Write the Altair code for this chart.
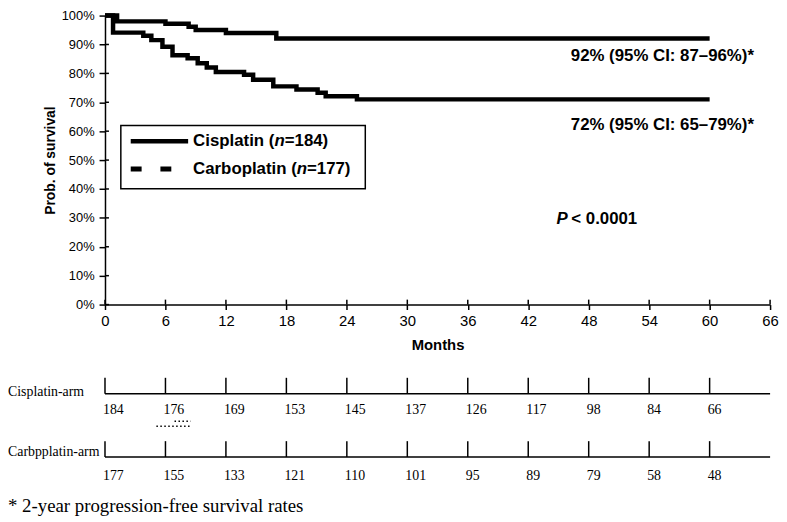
import altair as alt
import pandas as pd

# ---- survival curves (months, probability) ----
cis_months = [0, 1.2, 6, 8.3, 9, 12, 17, 60]
cis_surv = [1.00, 0.98, 0.972, 0.961, 0.95, 0.94, 0.921, 0.921]

carbo_months = [0, 0.8, 3.8, 4.6, 5.7, 6.7, 8.2, 9.2, 10.1, 11, 13.8, 14.7, 16.7, 19, 21.1, 21.9, 25, 60]
carbo_surv = [1.00, 0.941, 0.93, 0.915, 0.892, 0.863, 0.852, 0.835, 0.82, 0.805, 0.795, 0.778,
              0.755, 0.744, 0.733, 0.721, 0.71, 0.71]

# ---- axes ----
x_ticks = [0, 6, 12, 18, 24, 30, 36, 42, 48, 54, 60, 66]
y_ticks = [0, 0.1, 0.2, 0.3, 0.4, 0.5, 0.6, 0.7, 0.8, 0.9, 1.0]

# ---- numbers at risk ----
risk_months = [0, 6, 12, 18, 24, 30, 36, 42, 48, 54, 60]
cis_risk = [184, 176, 169, 153, 145, 137, 126, 117, 98, 84, 66]
carbo_risk = [177, 155, 133, 121, 110, 101, 95, 89, 79, 58, 48]

# ---- texts ----
cis_label = "92% (95% CI: 87\u201396%)*"
carbo_label = "72% (95% CI: 65\u201379%)*"
footnote = "* 2-year progression-free survival rates"

W, H = 672, 292
SANS = "Liberation Sans"
SERIF = "Liberation Serif"

curves = pd.concat([
    pd.DataFrame({"month": cis_months, "surv": cis_surv, "arm": "Cisplatin"}),
    pd.DataFrame({"month": carbo_months, "surv": carbo_surv, "arm": "Carboplatin"}),
])

x_scale = alt.Scale(domain=[0, 66], nice=False, zero=True)
y_scale = alt.Scale(domain=[0, 1], nice=False)

x_axis = alt.Axis(values=x_ticks, title="Months", labelFont=SANS, labelFontSize=15,
                  labelColor="black", labelFlush=False, labelOverlap=False, labelPadding=4,
                  tickSize=5, tickColor="black", tickWidth=1.5, domainColor="black",
                  domainWidth=1.5, grid=False, titleFont=SANS, titleFontSize=15,
                  titleFontWeight="bold", titleColor="black", titlePadding=9, format="d")
y_axis = alt.Axis(values=y_ticks, format=".0%", title="Prob. of survival", labelFont=SANS,
                  labelFontSize=13, labelColor="black", labelOverlap=False, labelPadding=5,
                  tickSize=6, tickColor="black", tickWidth=1.5, domainColor="black",
                  domainWidth=1.5, grid=False, titleFont=SANS, titleFontSize=14,
                  titleFontWeight="bold", titleColor="black", titlePadding=4)


def X(field=None, datum=None):
    if datum is not None:
        return alt.X(datum=datum, type="quantitative", scale=x_scale, axis=x_axis)
    return alt.X(field, type="quantitative", scale=x_scale, axis=x_axis)


def Y(field=None, datum=None):
    if datum is not None:
        return alt.Y(datum=datum, type="quantitative", scale=y_scale, axis=y_axis)
    return alt.Y(field, type="quantitative", scale=y_scale, axis=y_axis)


lines = alt.Chart(curves).mark_line(
    interpolate="step-after", color="black", strokeWidth=4.5, strokeCap="butt", strokeJoin="miter"
).encode(
    x=X("month"),
    y=Y("surv"),
    detail="arm:N",
)

# inner halves of the crossing tick marks
xt = pd.DataFrame({"month": x_ticks})
yt = pd.DataFrame({"surv": y_ticks})
x_inner = alt.Chart(xt).mark_rule(color="black", strokeWidth=1.5).encode(
    x=X("month"), y=alt.value(H - 5), y2=alt.value(H))
y_inner = alt.Chart(yt).mark_rule(color="black", strokeWidth=1.5).encode(
    y=Y("surv"), x=alt.value(0), x2=alt.value(4))

one = pd.DataFrame({"k": [0]})


def txt(text, x, y, size=17, weight="bold", style="normal", align="left", font=SANS, dx=0):
    return alt.Chart(one).mark_text(
        text=text, font=font, fontSize=size, fontWeight=weight, fontStyle=style,
        align=align, baseline="middle", color="black", dx=dx
    ).encode(x=x, y=y)


# annotations in data coordinates
ann1 = txt(cis_label, X(datum=64.4), Y(datum=0.859), align="right")
ann2 = txt(carbo_label, X(datum=64.4), Y(datum=0.62), align="right")
p1 = txt("P", X(datum=44.8), Y(datum=0.296), style="italic")
p2 = txt("< 0.0001", X(datum=44.8), Y(datum=0.296), dx=15)

# legend box (pixel layout)
box = alt.Chart(one).mark_rect(fill="white", stroke="black", strokeWidth=1.5).encode(
    x=alt.value(16), x2=alt.value(263), y=alt.value(111), y2=alt.value(175))
leg_solid = alt.Chart(one).mark_rule(color="black", strokeWidth=4.5).encode(
    x=alt.value(26), x2=alt.value(84), y=alt.value(127))
leg_dash = alt.Chart(one).mark_rule(color="black", strokeWidth=5, strokeDash=[11, 19]).encode(
    x=alt.value(26), x2=alt.value(67), y=alt.value(155))
l1a = txt("Cisplatin (", alt.value(89), alt.value(127))
l1b = txt("n", alt.value(89 + 82.2), alt.value(127), style="italic")
l1c = txt("=184)", alt.value(89 + 92.6), alt.value(127))
l2a = txt("Carboplatin (", alt.value(89), alt.value(155))
l2b = txt("n", alt.value(89 + 104.7), alt.value(155), style="italic")
l2c = txt("=177)", alt.value(89 + 115.1), alt.value(155))

# at-risk table
risk = pd.DataFrame({"month": risk_months, "cis": cis_risk, "carbo": carbo_risk})
span = pd.DataFrame({"month": [0], "end": [66]})


def risk_row(field, y_line, y_num):
    base_line = alt.Chart(span).mark_rule(color="black", strokeWidth=1.5).encode(
        x=X("month"), x2="end:Q", y=alt.value(y_line))
    ticks = alt.Chart(risk).mark_rule(color="black", strokeWidth=1.5).encode(
        x=X("month"), y=alt.value(y_line - 16), y2=alt.value(y_line))
    nums = alt.Chart(risk).mark_text(font=SERIF, fontSize=14, align="left", baseline="middle",
                                     color="black", dx=-2).encode(
        x=X("month"), y=alt.value(y_num), text=f"{field}:Q")
    return [base_line, ticks, nums]


row1 = risk_row("cis", 382, 399)
row2 = risk_row("carbo", 446, 465)
lab1 = txt("Cisplatin-arm", alt.value(-98), alt.value(380), size=14, weight="normal", font=SERIF)
lab2 = txt("Carbpplatin-arm", alt.value(-98), alt.value(441), size=14, weight="normal", font=SERIF)
dots1 = alt.Chart(one).mark_rule(color="black", strokeWidth=1.5, strokeDash=[1.5, 2.5]).encode(
    x=X(datum=5.1), x2=alt.X2(datum=8.5), y=alt.value(415))
dots2 = alt.Chart(one).mark_rule(color="black", strokeWidth=1.5, strokeDash=[1.5, 2.5]).encode(
    x=X(datum=6.9), x2=alt.X2(datum=8.5), y=alt.value(410))
foot = txt(footnote, alt.value(-98), alt.value(496), size=19, weight="normal", font=SERIF)

chart = alt.layer(
    lines, x_inner, y_inner, ann1, ann2, p1, p2, box, leg_solid, leg_dash,
    l1a, l1b, l1c, l2a, l2b, l2c,
    *row1, *row2, lab1, lab2, dots1, dots2, foot,
).properties(
    width=W, height=H,
    autosize=alt.AutoSizeParams(type="none"),
    padding={"left": 98, "top": 5, "right": 9, "bottom": 214},
    background="white",
).configure_view(strokeWidth=0)

chart.save("out.html", embed_options={"renderer": "svg", "actions": False})
